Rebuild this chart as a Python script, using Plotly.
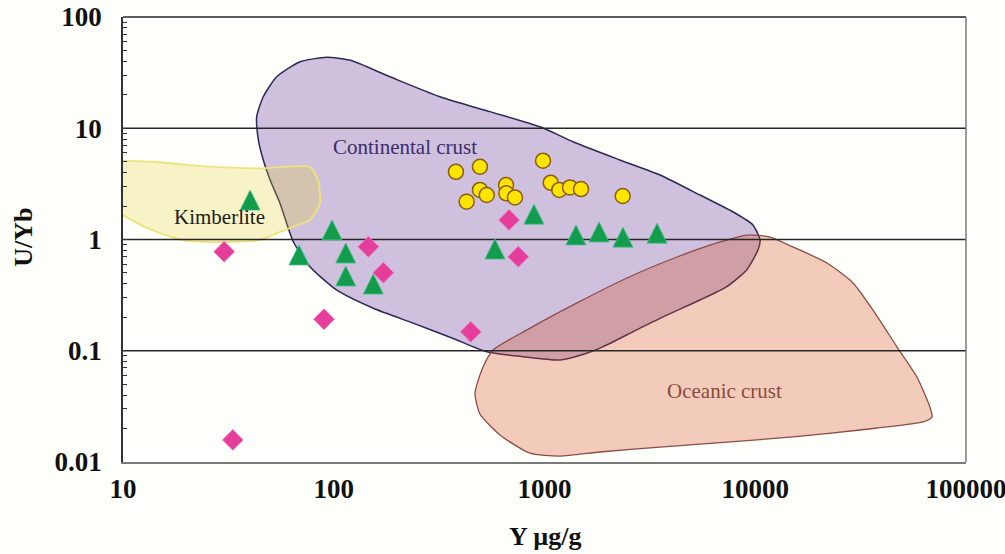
import plotly.graph_objects as go

# ---- sample data: Y (µg/g) and U/Yb ----
circle_y = [380, 494, 984, 427, 494, 532, 657, 659, 724, 1070, 1175, 1321, 1490, 2350]
circle_uyb = [4.06, 4.51, 5.11, 2.19, 2.79, 2.51, 3.09, 2.60, 2.39, 3.24, 2.79, 2.94, 2.84, 2.46]

triangle_y = [40.1, 68.4, 98.1, 114, 114, 154, 582, 891, 1410, 1815, 2357, 3420]
triangle_uyb = [2.26, 0.726, 1.22, 0.756, 0.470, 0.398, 0.822, 1.69, 1.10, 1.17, 1.05, 1.14]

diamond_y = [30.2, 33.2, 89.9, 146, 172, 447, 679, 751]
diamond_uyb = [0.777, 0.0158, 0.192, 0.861, 0.503, 0.148, 1.50, 0.700]

# ---- compositional fields (boundary vertices, Y µg/g vs U/Yb) ----
continental_y = [69.2, 92.7, 119, 185, 319, 551, 953, 1365, 2280, 3530, 5470, 8020,
                 9750, 10540, 10300, 9100, 7330, 5470, 3800, 2735, 1900, 1585, 1186,
                 791, 532, 369, 238, 154, 103, 77.1, 64.3, 55.6, 49.9, 46.3, 43.9,
                 43.1, 46.3, 53.6, 69.2]
continental_uyb = [39.6, 43.4, 41.0, 29.0, 19.2, 14.1, 10.3, 7.57, 5.19, 3.80, 2.51, 1.73,
                   1.35, 0.99, 0.805, 0.532, 0.377, 0.286, 0.209, 0.154, 0.109, 0.0948,
                   0.0826, 0.0885, 0.098, 0.129, 0.177, 0.241, 0.352, 0.570, 0.955, 2.11,
                   3.43, 5.19, 7.83, 12.7, 19.2, 29.0, 39.6]

oceanic_y = [570, 826, 1426, 2460, 4255, 6810, 9140, 11750, 15100, 21900, 29100, 36200,
             47100, 58500, 67400, 69000, 62500, 31400, 15100, 7350, 3530, 1832, 1186,
             853, 615, 494, 468, 511, 570]
oceanic_uyb = [0.1016, 0.154, 0.269, 0.451, 0.696, 0.950, 1.097, 1.052, 0.857, 0.615,
               0.407, 0.232, 0.108, 0.0581, 0.0312, 0.0254, 0.0229, 0.0194, 0.0168,
               0.0151, 0.0136, 0.0123, 0.0113, 0.0120, 0.0175, 0.0270, 0.0417, 0.0714,
               0.1016]

kimberlite_y = [8.68, 13.4, 25.9, 44.7, 77.1, 84.1, 86.1, 77.1, 64.1, 53.8, 44.7, 31.1,
                20.1, 15.0, 11.4, 8.68, 8.68]
kimberlite_uyb = [4.87, 5.00, 4.51, 4.36, 4.48, 3.43, 2.13, 1.50, 1.30, 1.14, 0.99, 0.95,
                  0.97, 1.14, 1.44, 2.04, 4.87]

# ---- axes ----
x_ticks = [10, 100, 1000, 10000, 100000]
x_ticktext = ["10", "100", "1000", "10000", "100000"]
y_ticks = [0.01, 0.1, 1, 10, 100]
y_ticktext = ["0.01", "0.1", "1", "10", "100"]
grid_levels = [0.1, 1, 10]

SERIF = "Liberation Serif, Times New Roman, serif"

fig = go.Figure()

# fields
fig.add_trace(go.Scatter(
    x=continental_y, y=continental_uyb, mode="lines", fill="toself",
    fillcolor="rgb(207,192,221)", line=dict(color="#2e2858", width=1.5, shape="spline",
                                            smoothing=0.6),
    hoverinfo="skip", showlegend=False))
fig.add_trace(go.Scatter(
    x=kimberlite_y, y=kimberlite_uyb, mode="lines", fill="toself",
    fillcolor="rgba(228,208,40,0.25)", line=dict(color="#ebe37c", width=1.8, shape="spline",
                                                 smoothing=0.6),
    hoverinfo="skip", showlegend=False))
fig.add_trace(go.Scatter(
    x=oceanic_y, y=oceanic_uyb, mode="lines", fill="toself",
    fillcolor="rgba(212,82,35,0.30)", line=dict(color="#8c4c48", width=1.3, shape="spline",
                                                smoothing=0.6),
    hoverinfo="skip", showlegend=False))

# horizontal grid lines drawn above the fields
for lvl in grid_levels:
    fig.add_trace(go.Scatter(
        x=[x_ticks[0], x_ticks[-1]], y=[lvl, lvl], mode="lines",
        line=dict(color="#262626", width=1.4), hoverinfo="skip", showlegend=False))

# samples
fig.add_trace(go.Scatter(
    x=diamond_y, y=diamond_uyb, mode="markers", showlegend=False,
    marker=dict(symbol="diamond", size=16, color="#e53d9b",
                line=dict(color="#f07ab8", width=0.8))))
fig.add_trace(go.Scatter(
    x=triangle_y, y=triangle_uyb, mode="markers", showlegend=False,
    marker=dict(symbol="arrow-down", angle=180, standoff=10, size=20, color="#129c4c",
                line=dict(color="#3fbf8c", width=0.8))))
fig.add_trace(go.Scatter(
    x=circle_y, y=circle_uyb, mode="markers", showlegend=False,
    marker=dict(symbol="circle", size=15, color="#ffe400",
                line=dict(color="#8a5c14", width=1.5))))

# field labels
fig.add_annotation(x=2.336, y=0.834, xref="x", yref="y", text="Continental crust",
                   showarrow=False, font=dict(family=SERIF, size=21, color="#3b2d6b"))
fig.add_annotation(x=1.458, y=0.200, xref="x", yref="y", text="Kimberlite",
                   showarrow=False, font=dict(family=SERIF, size=21, color="#1c1a14"))
fig.add_annotation(x=3.855, y=-1.362, xref="x", yref="y", text="Oceanic crust",
                   showarrow=False, font=dict(family=SERIF, size=21, color="#8b4a3c"))

# axis titles
fig.add_annotation(x=-0.1175, y=0.506, xref="paper", yref="paper", text="U/Yb",
                   textangle=-90, showarrow=False, xanchor="center", yanchor="middle",
                   font=dict(family=SERIF, size=26, color="#111111", weight="bold"))
fig.add_annotation(x=0.5006, y=-0.1685, xref="paper", yref="paper", text="Y µg/g",
                   showarrow=False, xanchor="center", yanchor="middle",
                   font=dict(family=SERIF, size=26, color="#111111", weight="bold"))

# frame: top and right edges
fig.add_shape(type="line", xref="paper", yref="paper", x0=0, x1=1, y0=1, y1=1,
              line=dict(color="#262626", width=1.5), layer="above")
fig.add_shape(type="line", xref="paper", yref="paper", x0=1, x1=1, y0=0, y1=1,
              line=dict(color="#7a7a7a", width=1.5), layer="above")

fig.update_layout(
    width=1005, height=554,
    margin=dict(l=123, r=39, t=17, b=92, autoexpand=False),
    paper_bgcolor="#fffffb", plot_bgcolor="#fffffb",
    showlegend=False,
    xaxis=dict(type="log", range=[1, 5], tickvals=x_ticks, ticktext=x_ticktext,
               showgrid=False, zeroline=False, ticks="", showline=True,
               linecolor="#7a7a7a", linewidth=1.5, ticklabelstandoff=2,
               ticklabeloverflow="allow", automargin=False,
               tickfont=dict(family=SERIF, size=27, color="#111111", weight="bold")),
    yaxis=dict(type="log", range=[-2, 2], tickvals=y_ticks, ticktext=y_ticktext,
               showgrid=False, zeroline=False, ticks="inside", ticklen=4,
               tickcolor="#333333", showline=True, linecolor="#333333", linewidth=1.5,
               ticklabelstandoff=14, ticklabeloverflow="allow", automargin=False,
               minor=dict(ticks="inside", ticklen=4, tickcolor="#333333", dtick="D1"),
               tickfont=dict(family=SERIF, size=27, color="#111111", weight="bold")),
)

fig.write_html("out.html")
